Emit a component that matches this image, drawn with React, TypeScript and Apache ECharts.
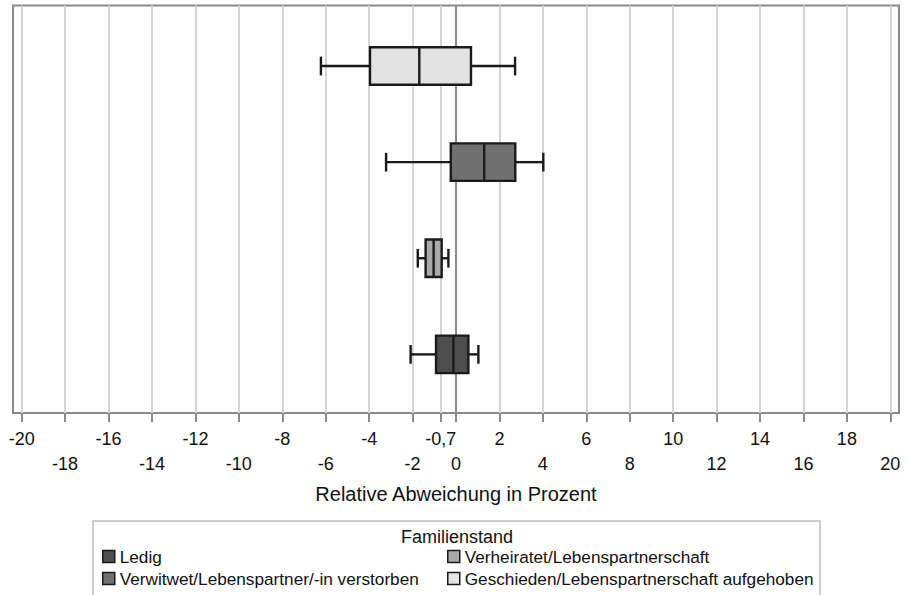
import React, { useEffect, useRef } from "react";
import * as echarts from "echarts";

// Categories (bottom to top)
const categories = [
  "Ledig",
  "Verheiratet/Lebenspartnerschaft",
  "Verwitwet/Lebenspartner/-in verstorben",
  "Geschieden/Lebenspartnerschaft aufgehoben",
];

// Box values: [min, q1, median, q3, max]
const ledig = [-2.09, -0.92, -0.12, 0.57, 1.03];
const verheiratet = [-1.76, -1.4, -1.03, -0.66, -0.35];
const verwitwet = [-3.22, -0.24, 1.3, 2.73, 4.02];
const geschieden = [-6.22, -3.96, -1.69, 0.69, 2.72];

const fills = ["#4d4d4d", "#a9a9a9", "#707070", "#e3e3e3"];

// Tick labels (staggered rows)
const topTickLabels = [-20, -16, -12, -8, -4, -0.7, 2, 6, 10, 14, 18];
const bottomTickLabels = [-18, -14, -10, -6, -2, 0, 4, 8, 12, 16, 20];
const allTicks = [...topTickLabels, ...bottomTickLabels].sort((a, b) => a - b);

const axisTitle = "Relative Abweichung in Prozent";
const legendTitle = "Familienstand";

const FONT = "'Liberation Sans', Arial, sans-serif";

export default function App() {
  const ref = useRef<HTMLDivElement>(null);

  useEffect(() => {
    document.body.style.margin = "0";
    if (!ref.current) return;
    const chart = echarts.init(ref.current, undefined, { renderer: "svg" });

    const boxes = [ledig, verheiratet, verwitwet, geschieden];

    const renderItem = (params: any, api: any) => {
      const y = api.value(5);
      const pMin = api.coord([api.value(0), y]);
      const pQ1 = api.coord([api.value(1), y]);
      const pMed = api.coord([api.value(2), y]);
      const pQ3 = api.coord([api.value(3), y]);
      const pMax = api.coord([api.value(4), y]);
      const h = api.size([0, 0.39])[1];
      const half = h / 2;
      const cap = h / 4;
      const cy = pMed[1];
      const stroke = { stroke: "#1a1a1a", lineWidth: 2.4 };
      const fill = fills[params.seriesIndex];
      return {
        type: "group",
        children: [
          { type: "line", shape: { x1: pMin[0], y1: cy, x2: pQ1[0], y2: cy }, style: stroke },
          { type: "line", shape: { x1: pQ3[0], y1: cy, x2: pMax[0], y2: cy }, style: stroke },
          { type: "line", shape: { x1: pMin[0], y1: cy - cap, x2: pMin[0], y2: cy + cap }, style: stroke },
          { type: "line", shape: { x1: pMax[0], y1: cy - cap, x2: pMax[0], y2: cy + cap }, style: stroke },
          {
            type: "rect",
            shape: { x: pQ1[0], y: cy - half, width: pQ3[0] - pQ1[0], height: h },
            style: { fill, stroke: "#1a1a1a", lineWidth: 2.4 },
          },
          { type: "line", shape: { x1: pMed[0], y1: cy - half, x2: pMed[0], y2: cy + half }, style: stroke },
        ],
      };
    };

    const gridLines = allTicks.filter((v) => v !== 0).map((v) => ({ xAxis: v }));

    const series: any[] = categories.map((name, i) => ({
      name,
      type: "custom",
      z: 10,
      renderItem,
      encode: { x: [0, 1, 2, 3, 4], y: 5 },
      itemStyle: { color: fills[i], borderColor: "#1a1a1a", borderWidth: 1.5 },
      data: [[...boxes[i], i]],
      ...(i === 0
        ? {
            markLine: {
              silent: true,
              symbol: ["none", "none"],
              label: { show: false },
              animation: false,
              lineStyle: { color: "#d4d4d4", width: 2, type: "solid" },
              data: [
                ...gridLines,
                { xAxis: 0, lineStyle: { color: "#8a8a8a", width: 2, type: "solid" } },
              ],
            },
          }
        : {}),
    }));

    const fmt = (v: number) => String(v).replace(".", ",");

    const legendCommon = {
      orient: "vertical",
      top: 548,
      padding: 0,
      itemGap: 5,
      itemWidth: 12,
      itemHeight: 12,
      icon: "rect",
      selectedMode: false,
      textStyle: { fontSize: 17.2, color: "#111", fontFamily: FONT },
      itemStyle: { borderColor: "#1a1a1a", borderWidth: 1.5 },
    };

    chart.setOption({
      animation: false,
      textStyle: { fontFamily: FONT },
      grid: {
        left: 13,
        right: 8,
        top: 5.5,
        bottom: 182,
        show: true,
        borderColor: "#8a8a8a",
        borderWidth: 2,
        backgroundColor: "transparent",
      },
      xAxis: [
        {
          type: "value",
          min: -20.4,
          max: 20.4,
          position: "bottom",
          axisLine: { show: true, onZero: false, lineStyle: { color: "#8a8a8a", width: 2 } },
          axisTick: { show: true, customValues: allTicks, length: 9, lineStyle: { color: "#8a8a8a", width: 2 } },
          axisLabel: {
            customValues: topTickLabels,
            formatter: (v: number) => fmt(v),
            margin: 17,
            fontSize: 18,
            color: "#111",
            fontFamily: FONT,
          },
          splitLine: { show: false },
          name: axisTitle,
          nameLocation: "middle",
          nameGap: 71,
          nameTextStyle: { fontSize: 20, color: "#111", fontFamily: FONT },
        },
        {
          type: "value",
          min: -20.4,
          max: 20.4,
          position: "bottom",
          axisLine: { show: false, onZero: false },
          axisTick: { show: false },
          axisLabel: {
            customValues: bottomTickLabels,
            formatter: (v: number) => fmt(v),
            margin: 42,
            fontSize: 18,
            color: "#111",
            fontFamily: FONT,
          },
          splitLine: { show: false },
        },
      ],
      yAxis: {
        type: "value",
        min: -0.61,
        max: 3.63,
        axisLine: { show: false },
        axisTick: { show: false },
        axisLabel: { show: false },
        splitLine: { show: false },
      },
      legend: [
        { ...legendCommon, left: 102, data: [categories[0], categories[2]] },
        { ...legendCommon, left: 447, data: [categories[1], categories[3]] },
      ],
      graphic: [
        {
          type: "rect",
          shape: { x: 93, y: 521, width: 727, height: 100 },
          style: { fill: "none", stroke: "#bdbdbd", lineWidth: 1.5 },
          silent: true,
        },
        {
          type: "text",
          x: 457,
          y: 537,
          style: {
            text: legendTitle,
            fontSize: 18,
            fill: "#111",
            fontFamily: FONT,
            textAlign: "center",
            textVerticalAlign: "middle",
          },
          silent: true,
        },
      ],
      series,
    });

    return () => chart.dispose();
  }, []);

  return <div ref={ref} style={{ width: 907, height: 595 }} />;
}
